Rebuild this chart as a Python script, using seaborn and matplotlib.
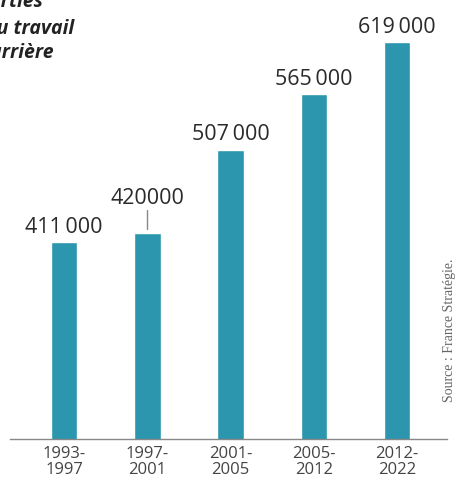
import matplotlib
matplotlib.use("Agg")
import matplotlib.pyplot as plt
import seaborn as sns
import pandas as pd

periods = ["1993-\n1997", "1997-\n2001", "2001-\n2005", "2005-\n2012", "2012-\n2022"]
values = [411000, 420000, 507000, 565000, 619000]
labels = ["411\u2009000", "420000", "507\u2009000", "565\u2009000", "619\u2009000"]
title_lines = ["Sorties", "du travail", "en carrière"]
source = "Source : France Stratégie."

sns.set_theme(style="white")
plt.rcParams["font.family"] = ["Open Sans", "DejaVu Sans"]

W, H = 455, 481
fig = plt.figure(figsize=(W / 100, H / 100), dpi=100)
ax = fig.add_axes([10 / W, 41 / H, 437 / W, 440 / H])

df = pd.DataFrame({"period": periods, "value": values})
sns.barplot(data=df, x="period", y="value", color="#2b96ae", saturation=1,
            width=0.32, ax=ax)

ax.set_xlim(-0.65, 4.6)
ax.set_ylim(206000, 664000)
ax.set_xlabel("")
ax.set_ylabel("")
ax.set_yticks([])
sns.despine(ax=ax, left=True, top=True, right=True)
ax.spines["bottom"].set_color("#888888")
ax.spines["bottom"].set_linewidth(1.0)
ax.tick_params(axis="x", length=0, pad=4, labelsize=12, labelcolor="#444444")
for t in ax.get_xticklabels():
    t.set_linespacing(1.0)

for i, (v, lab) in enumerate(zip(values, labels)):
    off = 7.5
    if i == 1:
        off = 22
        ax.plot([i, i], [v + 5000, v + 24000], color="#888888", lw=1)
    ax.annotate(lab, xy=(i, v), xytext=(0, off), textcoords="offset points",
                ha="center", va="baseline", fontsize=15.5, color="#2a2a2a")

ys = [7, 34, 58]
xs = [43, 74, 54]
for line, x, y in zip(title_lines, xs, ys):
    fig.text(x / W, 1 - y / H, line, ha="right", va="baseline", fontsize=14,
             fontweight="bold", fontstyle="italic", color="#222222")

fig.text(450 / W, 1 - 330 / H, source, rotation=90, ha="center", va="center",
         fontsize=10, color="#666666", family=["Liberation Serif", "DejaVu Serif"])

fig.savefig("out.png", dpi=100)
